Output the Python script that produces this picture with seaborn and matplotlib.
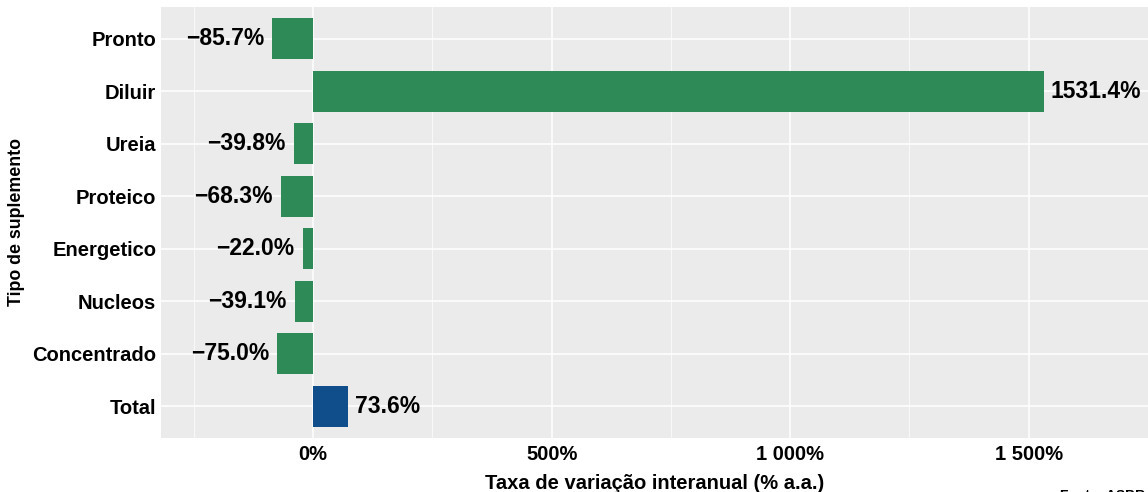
import matplotlib
matplotlib.use('Agg')
import matplotlib.pyplot as plt
import seaborn as sns
import numpy as np
import pandas as pd

# data
categorias = ['Pronto', 'Diluir', 'Ureia', 'Proteico', 'Energetico', 'Nucleos', 'Concentrado', 'Total']
variacao = [-85.7, 1531.4, -39.8, -68.3, -22.0, -39.1, -75.0, 73.6]
grupo = ['Tipo', 'Tipo', 'Tipo', 'Tipo', 'Tipo', 'Tipo', 'Tipo', 'Total']
x_ticks = [0, 500, 1000, 1500]
x_tick_labels = ['0%', '500%', '1 000%', '1 500%']

df = pd.DataFrame({'categoria': categorias, 'variacao': variacao, 'grupo': grupo})

sns.set_style('darkgrid')
plt.rcParams['font.family'] = ['Liberation Sans', 'DejaVu Sans']
plt.rcParams['font.weight'] = 'bold'
plt.rcParams['text.color'] = 'black'
plt.rcParams['axes.labelcolor'] = 'black'

W, H = 1148, 492
fig = plt.figure(figsize=(W / 100, H / 100), dpi=100)
ax = fig.add_axes([161 / W, (H - 438) / H, (1148 - 161) / W, (438 - 7) / H])

sns.barplot(data=df, x='variacao', y='categoria', hue='grupo', orient='h',
            palette={'Tipo': '#2E8B57', 'Total': '#104E8B'}, width=0.78,
            dodge=False, legend=False, saturation=1, linewidth=0, ax=ax)

ax.set_facecolor('#EBEBEB')
ax.set_xlim(-319, 1750)
ax.set_ylim(len(categorias) - 0.4, -0.6)

# grid
ax.grid(False)
ax.set_axisbelow(True)
ax.set_xticks(x_ticks)
ax.set_xticks([-250, 250, 750, 1250], minor=True)
ax.grid(which='major', axis='both', color='white', linewidth=1.1)
ax.grid(which='minor', axis='x', color='white', linewidth=0.5)
ax.set_xticklabels(x_tick_labels, fontsize=14.5, fontweight='bold', color='black')
ax.tick_params(axis='y', labelsize=14.5, labelcolor='black')
for lab in ax.get_yticklabels():
    lab.set_fontweight('bold')
ax.tick_params(which='major', length=3, width=0.8, color='#333333', pad=2)
ax.tick_params(axis='y', pad=0.5)
ax.tick_params(which='minor', length=0)
for s in ax.spines.values():
    s.set_visible(False)

# value labels
for i, v in enumerate(variacao):
    txt = f'{v:.1f}%'.replace('-', '\u2212')
    if v < 0:
        ax.annotate(txt, (v, i), xytext=(-6, 0), textcoords='offset points',
                    ha='right', va='center', fontsize=16.5, fontweight='bold', color='black')
    else:
        ax.annotate(txt, (v, i), xytext=(5, 0), textcoords='offset points',
                    ha='left', va='center', fontsize=16.5, fontweight='bold', color='black')

ax.set_xlabel('Taxa de variação interanual (% a.a.)', fontsize=14.5, fontweight='bold', labelpad=7)
ax.set_ylabel('Tipo de suplemento', fontsize=12.8, fontweight='bold', labelpad=5)

fig.text(1060 / W, 3 / H, 'Fonte: ASBRAM', ha='left', va='top', fontsize=10, fontweight='bold')

plt.savefig('out.png', dpi=100)
